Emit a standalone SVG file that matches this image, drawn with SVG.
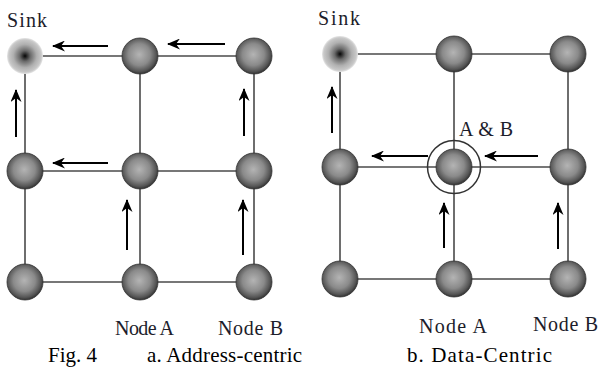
<svg xmlns="http://www.w3.org/2000/svg" width="602" height="369" viewBox="0 0 602 369">
  <style>
    .grid line { stroke: #4a4a4a; stroke-width: 1.6; }
    .flow line { stroke: #000; stroke-width: 2; marker-end: url(#head); }
    .node { fill: url(#ball); stroke: #333; stroke-width: 0.8; }
    .sink { fill: url(#sinkball); }
    .lbl { font-family: 'Liberation Serif', 'Times New Roman', Times, serif; font-size: 20px; fill: #1d1d2b; }
    .cap { font-family: 'Liberation Serif', 'Times New Roman', Times, serif; font-size: 21px; fill: #000; }
    .ring { fill: none; stroke: #333; stroke-width: 1.5; }
  </style>
  <defs>
    <radialGradient id="ball" cx="48%" cy="46%" r="55%">
      <stop offset="0" stop-color="#b4b4b4"/>
      <stop offset="0.55" stop-color="#8a8a8a"/>
      <stop offset="0.85" stop-color="#555"/>
      <stop offset="1" stop-color="#2e2e2e"/>
    </radialGradient>
    <radialGradient id="sinkball" cx="50%" cy="50%" r="50%">
      <stop offset="0" stop-color="#050505"/>
      <stop offset="0.3" stop-color="#6a6a6a"/>
      <stop offset="0.65" stop-color="#b0b0b0"/>
      <stop offset="0.9" stop-color="#c8c8c8"/>
      <stop offset="1" stop-color="#e6e6e6"/>
    </radialGradient>
    <marker id="head" viewBox="0 0 13 11" refX="12" refY="5.5" markerWidth="13" markerHeight="11" markerUnits="userSpaceOnUse" orient="auto">
      <path d="M0,0 L13,5.5 L0,11 L4,5.5 Z" fill="#000"/>
    </marker>
  </defs>

  <!-- connectors: grid links and data-flow arrows -->
  <g id="connectors">
    <g class="grid">
      <!-- left grid -->
      <line x1="25" y1="56" x2="254" y2="56"/>
      <line x1="25" y1="171" x2="254" y2="171"/>
      <line x1="25" y1="282" x2="254" y2="282"/>
      <line x1="25" y1="56" x2="25" y2="282"/>
      <line x1="140" y1="56" x2="140" y2="282"/>
      <line x1="254" y1="56" x2="254" y2="282"/>
      <!-- right grid -->
      <line x1="340" y1="54" x2="568" y2="54"/>
      <line x1="340" y1="167" x2="568" y2="167"/>
      <line x1="340" y1="279" x2="568" y2="279"/>
      <line x1="340" y1="54" x2="340" y2="279"/>
      <line x1="454" y1="54" x2="454" y2="279"/>
      <line x1="568" y1="54" x2="568" y2="279"/>
    </g>
    <g class="flow">
      <!-- address-centric paths -->
      <line x1="108" y1="46" x2="53" y2="46"/>
      <line x1="225" y1="44" x2="168" y2="44"/>
      <line x1="108" y1="163" x2="53" y2="163"/>
      <line x1="16" y1="137" x2="16" y2="90"/>
      <line x1="244" y1="136" x2="244" y2="89"/>
      <line x1="127" y1="250" x2="127" y2="200"/>
      <line x1="243" y1="255" x2="243" y2="200"/>
      <!-- data-centric paths -->
      <line x1="332" y1="133" x2="332" y2="87"/>
      <line x1="428" y1="156" x2="372" y2="156"/>
      <line x1="538" y1="156" x2="485" y2="156"/>
      <line x1="444" y1="248" x2="444" y2="203"/>
      <line x1="558" y1="249" x2="558" y2="203"/>
    </g>
  </g>

  <!-- a. address-centric nodes -->
  <g id="a-sink"><circle class="sink" cx="25" cy="56" r="18"/><text class="lbl" x="7" y="27" textLength="40">Sink</text></g>
  <g id="a-n12"><circle class="node" cx="140" cy="56" r="18"/></g>
  <g id="a-n13"><circle class="node" cx="254" cy="56" r="18"/></g>
  <g id="a-n21"><circle class="node" cx="25" cy="171" r="18"/></g>
  <g id="a-n22"><circle class="node" cx="140" cy="171" r="18"/></g>
  <g id="a-n23"><circle class="node" cx="254" cy="171" r="18"/></g>
  <g id="a-n31"><circle class="node" cx="25" cy="282" r="18"/></g>
  <g id="a-nodeA"><circle class="node" cx="140" cy="282" r="18"/><text class="lbl" x="115" y="335" textLength="59">Node A</text></g>
  <g id="a-nodeB"><circle class="node" cx="254" cy="282" r="18"/><text class="lbl" x="218" y="335" textLength="65">Node B</text></g>

  <!-- b. data-centric nodes -->
  <g id="b-sink"><circle class="sink" cx="340" cy="54" r="18"/><text class="lbl" x="318" y="25" textLength="42">Sink</text></g>
  <g id="b-n12"><circle class="node" cx="454" cy="54" r="18"/></g>
  <g id="b-n13"><circle class="node" cx="568" cy="54" r="18"/></g>
  <g id="b-n21"><circle class="node" cx="340" cy="167" r="18"/></g>
  <g id="b-agg"><circle class="ring" cx="454" cy="167" r="26.5"/><circle class="node" cx="454" cy="167" r="18"/><text class="lbl" x="459" y="136" textLength="54">A &amp; B</text></g>
  <g id="b-n23"><circle class="node" cx="568" cy="167" r="18"/></g>
  <g id="b-n31"><circle class="node" cx="340" cy="279" r="18"/></g>
  <g id="b-nodeA"><circle class="node" cx="454" cy="279" r="18"/><text class="lbl" x="419" y="333" textLength="68">Node A</text></g>
  <g id="b-nodeB"><circle class="node" cx="568" cy="279" r="18"/><text class="lbl" x="533" y="331" textLength="65">Node B</text></g>

  <!-- captions -->
  <text class="cap" x="48" y="362">Fig. 4</text>
  <text class="cap" x="147" y="362" textLength="155">a. Address-centric</text>
  <text class="cap" x="407" y="362" textLength="145">b. Data-Centric</text>
</svg>
